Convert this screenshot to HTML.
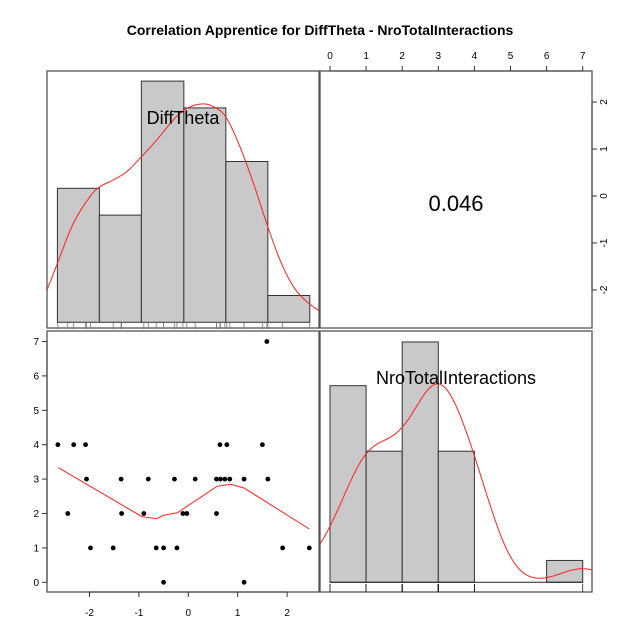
<!DOCTYPE html>
<html><head><meta charset="utf-8"><style>
html,body{margin:0;padding:0;background:#fff;}
svg{display:block;font-family:"Liberation Sans",Arial,sans-serif;}
</style></head><body>
<svg id="chart" width="640" height="640" viewBox="0 0 640 640">
<text x="320" y="35" text-anchor="middle" font-size="14" font-weight="bold">Correlation Apprentice for DiffTheta - NroTotalInteractions</text>
<defs>
<clipPath id="clipTL"><rect x="47" y="71" width="272" height="257"/></clipPath>
<clipPath id="clipBR"><rect x="320" y="331" width="272" height="261"/></clipPath>
<clipPath id="clipBL"><rect x="47" y="331" width="272" height="261"/></clipPath>
</defs>
<g id="g"></g>
</svg>
<script>
const diffTheta = [-2.64,-2.32,-2.08,0.64,0.78,1.50,-2.06,-1.36,-0.81,-0.28,0.14,0.57,0.65,0.74,0.84,1.13,1.61,-2.44,-1.35,-0.90,-0.11,-0.03,0.57,-1.98,-1.52,-0.65,-0.50,-0.23,1.91,2.45,-0.50,1.13,1.59];
const nroTotal  = [4,4,4,4,4,4,3,3,3,3,3,3,3,3,3,3,3,2,2,2,2,2,2,1,1,1,1,1,1,1,0,0,7];
const diffBreaks = [-2.65,-1.80,-0.95,-0.09,0.76,1.61,2.46];
const diffCounts = [5,4,9,8,6,1];
const nroBreaks = [0,1,2,3,4,5,6,7];
const nroCounts = [9,6,11,6,0,0,1];
const diffDensX = [-2.854,-2.597,-2.328,-1.99,-1.787,-1.518,-1.247,-0.978,-0.640,-0.304,-0.032,0.304,0.575,0.777,1.047,1.317,1.587,1.857,2.127,2.397,2.652];
const diffDensY = [1.23,2.45,3.69,4.69,5.06,5.31,5.62,6.12,6.80,7.55,7.98,8.15,7.98,7.61,6.55,5.19,3.69,2.32,1.33,0.77,0.43];
const fitX = [-2.63,-0.94,-0.64,-0.50,-0.22,0.58,0.85,1.13,2.45];
const fitY = [3.33,1.91,1.85,1.95,2.02,2.79,2.85,2.74,1.55];
const xTicksDiff = [-2,-1,0,1,2];
const yTicksNro = [0,1,2,3,4,5,6,7];
const xTicksNro = [0,1,2,3,4,5,6,7];
const yTicksDiff = [-2,-1,0,1,2];
const corrLabel = "0.046";

const NS="http://www.w3.org/2000/svg";
const g=document.getElementById('g');
function mk(tag,attrs,parent){const e=document.createElementNS(NS,tag);for(const k in attrs)e.setAttribute(k,attrs[k]);(parent||g).appendChild(e);return e;}
const xD=v=>188.3+v*49.4;
const yN=v=>582.3-v*34.4;
const xN=v=>330+v*36.1;
const yDr=v=>196+v*-47;
const hTL=c=>322.3-c*26.8;
const hBR=c=>582.3-c*21.85;

function smoothPath(pts){
 let d='M'+pts[0][0].toFixed(1)+','+pts[0][1].toFixed(1);
 for(let i=0;i<pts.length-1;i++){
  const p0=pts[i-1]||pts[i],p1=pts[i],p2=pts[i+1],p3=pts[i+2]||p2;
  const c1=[p1[0]+(p2[0]-p0[0])/6,p1[1]+(p2[1]-p0[1])/6];
  const c2=[p2[0]-(p3[0]-p1[0])/6,p2[1]-(p3[1]-p1[1])/6];
  d+='C'+c1.map(v=>v.toFixed(1)).join(',')+' '+c2.map(v=>v.toFixed(1)).join(',')+' '+p2.map(v=>v.toFixed(1)).join(',');
 }
 return d;
}

[[47,71,272,257,'panel-diff-hist'],[320,71,272,257,'panel-correlation'],[47,331,272,261,'panel-scatter'],[320,331,272,261,'panel-nro-hist']].forEach(p=>{
 const r=mk('rect',{x:p[0],y:p[1],width:p[2],height:p[3],fill:'none',stroke:'#555','stroke-width':1.3});
 
 
});

function kde(data,adj){
 const n=data.length,m=data.reduce((a,b)=>a+b,0)/n;
 const sd=Math.sqrt(data.reduce((a,b)=>a+(b-m)*(b-m),0)/(n-1));
 const s=[...data].sort((a,b)=>a-b);
 const q=p=>{const h=(n-1)*p,l=Math.floor(h);return s[l]+(h-l)*((s[l+1]??s[l])-s[l]);};
 const iqr=q(0.75)-q(0.25);
 const bw=adj*0.9*Math.min(sd,iqr/1.34)*Math.pow(n,-0.2);
 return x=>data.reduce((a,d)=>a+Math.exp(-0.5*((x-d)/bw)**2),0)/(n*bw*Math.sqrt(2*Math.PI));
}

diffCounts.forEach((c,i)=>{
 const r=mk('rect',{x:xD(diffBreaks[i]),y:hTL(c),width:xD(diffBreaks[i+1])-xD(diffBreaks[i]),height:hTL(0)-hTL(c),fill:'#c9c9c9',stroke:'#333','stroke-width':1});
 
 
});
{
 const pts=diffDensX.map((x,i)=>[xD(x),hTL(diffDensY[i])]);
 const p=mk('path',{d:smoothPath(pts),fill:'none',stroke:'#ff2020','stroke-width':1,'clip-path':'url(#clipTL)'});
 
 
}
diffTheta.forEach(v=>{
 const l=mk('line',{x1:xD(v),x2:xD(v),y1:323,y2:329,stroke:'#777','stroke-width':0.8});
 
 
});
{const t=mk('text',{x:183,y:124,'text-anchor':'middle','font-size':18});t.textContent='DiffTheta';
}

{const t=mk('text',{x:456,y:211,'text-anchor':'middle','font-size':22});t.textContent=corrLabel;
}
mk('line',{x1:xN(0),x2:xN(7),y1:71,y2:71,stroke:'#333'});
xTicksNro.forEach(v=>{
 mk('line',{x1:xN(v),x2:xN(v),y1:66,y2:71,stroke:'#333'});
 const t=mk('text',{x:xN(v),y:59,'text-anchor':'middle','font-size':10});t.textContent=v;
 
});
mk('line',{x1:592,x2:592,y1:yDr(2),y2:yDr(-2),stroke:'#333'});
yTicksDiff.forEach(v=>{
 mk('line',{x1:592,x2:597,y1:yDr(v),y2:yDr(v),stroke:'#333'});
 const t=mk('text',{x:607,y:yDr(v),'text-anchor':'middle','font-size':10,transform:`rotate(-90 607 ${yDr(v)})`});t.textContent=v;
 
});

{
 let d='';fitX.forEach((x,i)=>{d+=(i?'L':'M')+xD(x).toFixed(1)+','+yN(fitY[i]).toFixed(1);});
 const p=mk('path',{d:d,fill:'none',stroke:'#ff2020','stroke-width':1,'clip-path':'url(#clipBL)'});
 
 
}
diffTheta.forEach((v,i)=>{
 const c=mk('circle',{cx:xD(v),cy:yN(nroTotal[i]),r:2.4,fill:'#000'});
 
 
});
mk('line',{x1:xD(-2),x2:xD(2),y1:592,y2:592,stroke:'#333'});
xTicksDiff.forEach(v=>{
 mk('line',{x1:xD(v),x2:xD(v),y1:592,y2:597,stroke:'#333'});
 const t=mk('text',{x:xD(v),y:616,'text-anchor':'middle','font-size':10});t.textContent=v;
 
});
mk('line',{x1:47,x2:47,y1:yN(0),y2:yN(7),stroke:'#333'});
yTicksNro.forEach(v=>{
 mk('line',{x1:42,x2:47,y1:yN(v),y2:yN(v),stroke:'#333'});
 const t=mk('text',{x:39,y:yN(v)+3.5,'text-anchor':'end','font-size':10});t.textContent=v;
 
});

nroCounts.forEach((c,i)=>{
 if(c===0)return;
 const r=mk('rect',{x:xN(nroBreaks[i]),y:hBR(c),width:xN(nroBreaks[i+1])-xN(nroBreaks[i]),height:hBR(0)-hBR(c),fill:'#c9c9c9',stroke:'#333','stroke-width':1});
 
 
});
mk('line',{x1:xN(0),x2:xN(7),y1:hBR(0),y2:hBR(0),stroke:'#222'});
{
 const f=kde(nroTotal,1),n=nroTotal.length;let d='';
 for(let px=320;px<=592;px+=1){const v=(px-330)/36.1;d+=(d?'L':'M')+px+','+hBR(f(v)*n).toFixed(1);}
 const p=mk('path',{d:d,fill:'none',stroke:'#ff2020','stroke-width':1,'clip-path':'url(#clipBR)'});
 
 
}
nroTotal.forEach(v=>{
 const l=mk('line',{x1:xN(v),x2:xN(v),y1:584,y2:592,stroke:'#222','stroke-width':0.8});
 
 
});
{const t=mk('text',{x:456,y:384,'text-anchor':'middle','font-size':18});t.textContent='NroTotalInteractions';
}
</script>
</body></html>
